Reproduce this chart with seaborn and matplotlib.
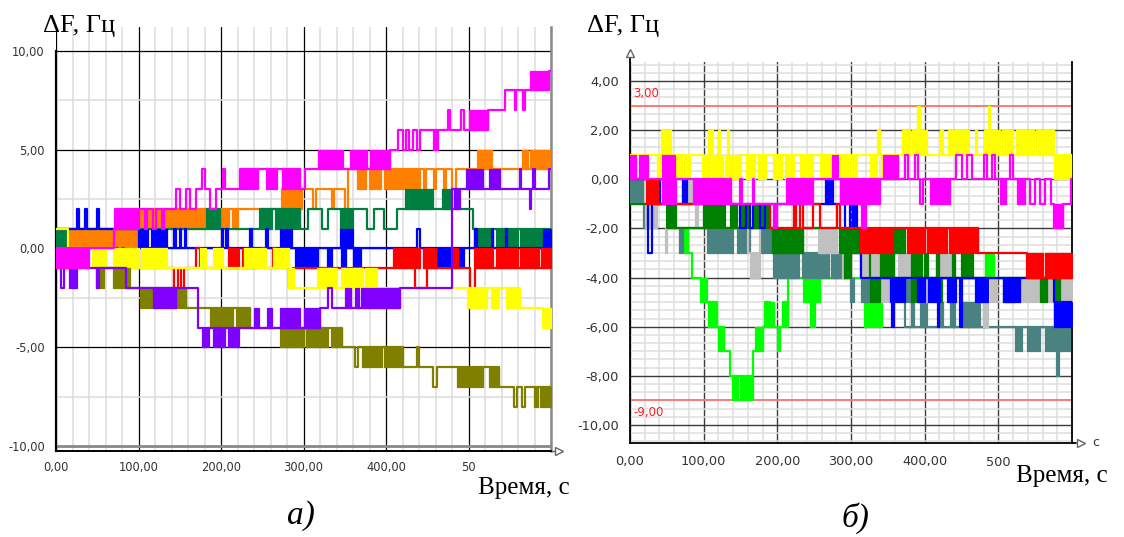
import matplotlib
matplotlib.use("Agg")
import matplotlib.pyplot as plt
import numpy as np
import seaborn as sns

sns.set_theme(style="white")
plt.rcParams["font.family"] = ["DejaVu Sans"]

# ---------------- axis ticks and labels ----------------
TIME_TICKS_A = [0, 100, 200, 300, 400, 500]
TIME_LABELS_A = ["0,00", "100,00", "200,00", "300,00", "400,00", "50"]
DF_TICKS_A = [-10, -5, 0, 5, 10]
DF_LABELS_A = ["-10,00", "-5,00", "0,00", "5,00", "10,00"]

TIME_TICKS_B = [0, 100, 200, 300, 400, 500]
TIME_LABELS_B = ["0,00", "100,00", "200,00", "300,00", "400,00", "500"]
DF_TICKS_B = [-10, -8, -6, -4, -2, 0, 2, 4]
DF_LABELS_B = ["-10,00", "-8,00", "-6,00", "-4,00", "-2,00", "0,00", "2,00", "4,00"]

LIMIT_HIGH_B = 3.0
LIMIT_LOW_B = -9.0

# ---------------- panel a: frequency deviation traces ----------------
# each trace: step path (time s, ΔF Hz) and toggling bands (t0, t1, low, high)
ORANGE_A = [(0, 1), (100, 2), (274, 3), (312, 2), (315, 3), (334, 2), (337, 3), (350, 2),
            (354, 4), (446, 3), (449, 4), (458, 3), (461, 4), (470, 3), (473, 4), (480, 3),
            (485, 4), (600, 4)]
ORANGE_A_BANDS = [(15, 100, 0, 1), (100, 183, 1, 2), (199, 210, 1, 2), (213, 220, 1, 2),
                  (274, 298, 2, 3), (365, 376, 3, 4), (379, 394, 3, 4), (398, 441, 3, 4),
                  (510, 528, 4, 5), (565, 572, 4, 5), (575, 599, 4, 5)]

GREEN_A = [(0, 1), (183, 2), (199, 1), (247, 2), (296, 1), (305, 2), (323, 1), (330, 2),
           (377, 1), (385, 2), (397, 1), (413, 2), (505, 1), (600, 1)]
GREEN_A_BANDS = [(0, 14, 0, 1), (183, 199, 1, 2), (247, 262, 1, 2), (265, 296, 1, 2),
                 (344, 360, 1, 2), (423, 457, 2, 3), (468, 480, 2, 3),
                 (507, 530, 0, 1), (533, 560, 0, 1), (563, 599, 0, 1)]

BLUE_A = [(0, 1), (26, 2), (28, 1), (35, 2), (37, 1), (50, 2), (52, 1), (100, 0),
          (143, 1), (145, 0), (150, 1), (152, 0), (156, 1), (158, 0), (201, 1), (203, 0),
          (206, 1), (208, 0), (235, 1), (237, 0), (255, 1), (257, 0), (437, 1), (441, 0),
          (508, 1), (510, 0), (528, 1), (530, 0), (545, 1), (547, 0), (600, 0)]
BLUE_A_BANDS = [(102, 112, 0, 1), (115, 134, 0, 1), (271, 286, 0, 1), (290, 318, -1, 0),
                (329, 335, -1, 0), (344, 360, 0, 1), (345, 351, -1, 0), (360, 370, -1, 0),
                (445, 477, -1, 0), (481, 495, -1, 0), (590, 600, 0, 1)]

RED_A = [(60, -1), (72, 0), (75, -1), (80, 0), (83, -1), (143, -2), (148, -1), (151, -2),
         (155, -1), (170, 0), (174, -1), (250, 0), (252, -1), (263, 0), (266, -1),
         (283, -2), (287, -1), (435, -2), (450, -1), (502, -2), (508, -1), (600, -1)]
RED_A_BANDS = [(208, 222, -1, 0), (226, 240, -1, 0), (409, 441, -1, 0), (445, 461, -1, 0),
               (481, 487, -1, 0), (507, 530, -1, 0), (533, 560, -1, 0), (563, 585, -1, 0),
               (588, 600, -1, 0)]

YELLOW_A = [(0, 1), (14, 0), (45, -1), (283, -2), (562, -3), (590, -4), (600, -4)]
YELLOW_A_BANDS = [(45, 60, -1, 0), (69, 100, -1, 0), (103, 134, -1, 0), (174, 182, -1, 0),
                  (190, 202, -1, 0), (228, 255, -1, 0), (263, 283, -1, 0), (281, 289, -2, -1),
                  (316, 340, -2, -1), (345, 372, -2, -1), (375, 389, -2, -1),
                  (498, 522, -3, -2), (527, 537, -3, -2), (546, 562, -3, -2), (590, 600, -4, -3)]

OLIVE_A = [(48, -1), (85, -2), (158, -3), (235, -4), (347, -5), (362, -6), (366, -5),
           (421, -6), (437, -5), (440, -6), (457, -7), (462, -6), (537, -7), (555, -8),
           (559, -7), (565, -8), (569, -7), (600, -7)]
OLIVE_A_BANDS = [(48, 58, -2, -1), (69, 90, -2, -1), (102, 122, -3, -2), (126, 140, -3, -2),
                 (143, 158, -3, -2), (187, 215, -4, -3), (218, 235, -4, -3),
                 (271, 300, -5, -4), (303, 330, -5, -4), (333, 347, -5, -4),
                 (371, 395, -6, -5), (398, 421, -6, -5), (486, 517, -7, -6),
                 (525, 537, -7, -6), (579, 584, -8, -7), (587, 600, -8, -7)]

PURPLE_A = [(0, -1), (6, -2), (10, -1), (85, -2), (172, -4), (320, -3), (330, -2),
            (335, -3), (417, -2), (480, 3), (562, 4), (564, 3), (574, 2), (576, 3),
            (578, 4), (580, 3), (598, 4), (600, 4)]
PURPLE_A_BANDS = [(16, 26, -2, -1), (48, 52, -2, -1), (118, 145, -3, -2), (177, 186, -5, -4),
                  (190, 205, -5, -4), (208, 222, -5, -4), (240, 246, -4, -3),
                  (256, 262, -4, -3), (271, 296, -4, -3), (300, 320, -4, -3),
                  (350, 357, -3, -2), (362, 367, -3, -2), (370, 417, -3, -2),
                  (482, 490, 2, 3), (497, 517, 3, 4), (525, 538, 3, 4)]

MAGENTA_A = [(0, 0), (70, 1), (72, 2), (108, 1), (110, 2), (118, 1), (121, 2), (128, 1),
             (131, 2), (146, 3), (150, 2), (158, 3), (163, 2), (170, 3), (177, 4), (180, 3),
             (187, 2), (194, 3), (203, 4), (205, 3), (223, 4), (296, 3), (302, 4),
             (405, 5), (415, 6), (420, 5), (424, 6), (428, 5), (433, 6), (438, 5),
             (441, 6), (475, 7), (477, 6), (491, 7), (494, 6), (524, 7), (544, 8),
             (556, 7), (558, 8), (566, 7), (569, 8), (597, 9), (600, 9)]
MAGENTA_A_BANDS = [(0, 40, -1, 0), (72, 100, 1, 2), (223, 245, 3, 4), (255, 268, 3, 4),
                   (274, 296, 3, 4), (318, 340, 4, 5), (342, 348, 4, 5), (356, 377, 4, 5),
                   (381, 405, 4, 5), (457, 463, 5, 6), (500, 524, 6, 7), (575, 597, 8, 9)]

# ---------------- panel b: frequency deviation traces ----------------
YELLOW_B = [(0, 1), (55, 1), (99, 0), (150, 1), (421, 1), (600, 1)]
YELLOW_B_BANDS = [(0, 8, 0, 1), (36, 41, 0, 1), (42, 55, 1, 2), (63, 70, 0, 1),
                  (73, 81, 0, 1), (99, 108, 0, 1), (111, 126, 0, 1), (129, 149, 0, 1),
                  (106, 113, 1, 2), (120, 122, 1, 2), (131, 134, 1, 2),
                  (158, 170, 0, 1), (174, 185, 0, 1), (194, 206, 0, 1), (210, 222, 0, 1),
                  (231, 249, 0, 1), (258, 276, 0, 1), (285, 296, 0, 1), (299, 308, 0, 1),
                  (326, 335, 0, 1), (335, 339, 1, 2), (341, 364, 0, 1),
                  (369, 380, 1, 2), (383, 403, 1, 2), (389, 393, 2, 3), (421, 425, 1, 2),
                  (432, 437, 1, 2), (439, 450, 1, 2), (452, 460, 1, 2), (469, 471, 1, 2),
                  (480, 502, 1, 2), (486, 489, 2, 3), (505, 520, 1, 2), (524, 548, 1, 2),
                  (551, 575, 1, 2), (575, 598, 0, 1)]

LIME_B = [(70, -2), (74, -3), (84, -4), (97, -5), (118, -6), (127, -7), (136, -8),
          (167, -7), (181, -6), (183, -5), (190, -6), (204, -6), (208, -5), (215, -4),
          (258, -4), (600, -4)]
LIME_B_BANDS = [(74, 79, -3, -2), (97, 104, -5, -4), (106, 118, -6, -5), (120, 127, -7, -6),
                (138, 146, -9, -8), (149, 160, -9, -8), (162, 167, -9, -8),
                (170, 181, -7, -6), (183, 195, -6, -5), (199, 204, -7, -6),
                (208, 215, -6, -5), (235, 258, -5, -4), (244, 251, -6, -5),
                (316, 342, -5, -4), (318, 342, -6, -5), (416, 421, -4, -3),
                (482, 494, -4, -3), (575, 584, -5, -4)]

TEAL_B = [(0, 0), (18, -1), (60, -2), (194, -3), (313, -4), (373, -6), (520, -6),
          (580, -8), (582, -6), (600, -6)]
TEAL_B_BANDS = [(0, 18, -1, 0), (18, 22, -2, -1), (66, 72, -3, -2), (104, 140, -3, -2),
                (145, 163, -3, -2), (176, 204, -3, -2), (194, 230, -4, -3),
                (233, 270, -4, -3), (273, 294, -4, -3), (299, 304, -5, -4),
                (313, 326, -5, -4), (373, 382, -5, -4), (382, 386, -6, -5),
                (394, 403, -6, -5), (421, 425, -6, -5), (435, 441, -6, -5),
                (452, 475, -6, -5), (479, 483, -6, -5), (523, 532, -7, -6),
                (539, 557, -7, -6), (563, 575, -7, -6), (577, 597, -7, -6)]

GRAY_B = [(0, -1), (100, -2), (160, -3), (177, -2), (256, -3), (337, -4), (600, -4)]
GRAY_B_BANDS = [(20, 36, -2, -1), (47, 50, -3, -2), (70, 84, -1, 0), (88, 92, -2, -1),
                (163, 177, -4, -3), (256, 281, -3, -2), (288, 300, -4, -3),
                (312, 339, -4, -3), (337, 351, -5, -4), (364, 382, -4, -3),
                (389, 416, -5, -4), (421, 441, -4, -3), (450, 457, -4, -3),
                (479, 486, -6, -5), (489, 498, -5, -4), (527, 557, -5, -4),
                (566, 575, -5, -4), (584, 600, -5, -4)]

DGREEN_B = [(0, -1), (50, -2), (194, -3), (235, -2), (285, -3), (326, -4), (600, -4)]
DGREEN_B_BANDS = [(50, 63, -2, -1), (99, 129, -2, -1), (136, 145, -2, -1),
                  (150, 160, -2, -1), (167, 190, -2, -1), (194, 235, -3, -2),
                  (285, 294, -3, -2), (296, 312, -3, -2), (291, 300, -4, -3),
                  (326, 339, -5, -4), (339, 359, -4, -3), (357, 373, -3, -2),
                  (382, 396, -4, -3), (399, 404, -4, -3), (382, 392, -5, -4),
                  (416, 420, -4, -3), (420, 424, -5, -4), (437, 441, -4, -3),
                  (449, 466, -4, -3), (472, 479, -5, -4), (507, 523, -5, -4),
                  (557, 566, -5, -4), (575, 584, -5, -4), (575, 582, -6, -5)]

BLUE_B = [(0, 0), (25, -3), (30, -1), (149, -2), (158, -1), (163, -2), (167, -1),
          (176, -2), (183, -1), (292, -2), (299, -1), (303, -2), (313, -4), (356, -6),
          (358, -4), (418, -6), (420, -4), (448, -6), (450, -4), (575, -5), (600, -5)]
BLUE_B_BANDS = [(36, 41, -1, 0), (52, 56, -1, 0), (70, 77, -1, 0), (226, 235, -1, 0),
                (265, 276, -1, 0), (285, 290, -1, 0), (303, 308, -2, -1),
                (353, 373, -5, -4), (389, 400, -5, -4), (405, 421, -5, -4),
                (430, 443, -5, -4), (468, 486, -5, -4), (507, 529, -5, -4),
                (575, 600, -6, -5)]

RED_B = [(0, 0), (23, -1), (190, -2), (222, -1), (226, -2), (231, -1), (235, -2),
         (249, -1), (258, -2), (281, -1), (285, -2), (473, -3), (539, -4), (600, -4)]
RED_B_BANDS = [(23, 38, -1, 0), (312, 339, -3, -2), (341, 357, -3, -2), (376, 400, -3, -2),
               (403, 430, -3, -2), (433, 473, -3, -2), (539, 560, -4, -3),
               (563, 600, -4, -3)]

MAGENTA_B = [(0, 0), (131, -1), (135, 0), (137, -1), (149, 0), (152, -1), (167, 0),
             (169, -1), (213, 0), (373, 1), (378, 0), (387, 1), (391, 0), (394, -1),
             (398, 0), (443, 1), (450, 0), (457, 1), (464, 0), (480, 1), (484, 0),
             (491, 1), (496, 0), (516, 1), (520, 0), (543, -1), (550, 0), (557, -1),
             (563, 0), (571, -1), (575, -2), (588, -1), (598, 0), (600, 0)]
MAGENTA_B_BANDS = [(0, 8, 0, 1), (12, 25, 0, 1), (43, 61, 0, 1), (43, 63, -1, 0),
                   (86, 120, -1, 0), (120, 131, -1, 0), (194, 199, -2, -1),
                   (213, 249, -1, 0), (274, 283, 0, 1), (285, 312, -1, 0),
                   (308, 339, -1, 0), (314, 321, -2, -1), (344, 364, 0, 1),
                   (407, 434, -1, 0), (502, 511, -1, 0), (525, 536, -1, 0),
                   (575, 588, -2, -1)]

PANEL_A_TRACES = [
    (ORANGE_A, ORANGE_A_BANDS, "#ff8000"),
    (GREEN_A, GREEN_A_BANDS, "#008040"),
    (BLUE_A, BLUE_A_BANDS, "#0000ff"),
    (RED_A, RED_A_BANDS, "#ff0000"),
    (YELLOW_A, YELLOW_A_BANDS, "#ffff00"),
    (OLIVE_A, OLIVE_A_BANDS, "#808000"),
    (PURPLE_A, PURPLE_A_BANDS, "#8000ff"),
    (MAGENTA_A, MAGENTA_A_BANDS, "#ff00ff"),
]
PANEL_B_TRACES = [
    (YELLOW_B, YELLOW_B_BANDS, "#ffff00"),
    (LIME_B, LIME_B_BANDS, "#00ff00"),
    (TEAL_B, TEAL_B_BANDS, "#4a8282"),
    (GRAY_B, GRAY_B_BANDS, "#c0c0c0"),
    (DGREEN_B, DGREEN_B_BANDS, "#008000"),
    (BLUE_B, BLUE_B_BANDS, "#0000ff"),
    (RED_B, RED_B_BANDS, "#ff0000"),
    (MAGENTA_B, MAGENTA_B_BANDS, "#ff00ff"),
]

W, H = 1124, 537
fig = plt.figure(figsize=(W / 100, H / 100), dpi=100)


def px_axes(left, top, right, bottom):
    return fig.add_axes([left / W, 1 - bottom / H, (right - left) / W, (bottom - top) / H])


def draw_trace(ax, path, bands, color, z):
    for t0, t1, lo, hi in bands:
        ax.fill_between([t0, t1], [lo, lo], [hi, hi], color=color, edgecolor=color,
                        lw=0.9, zorder=z)
    sns.lineplot(x=[p[0] for p in path], y=[p[1] for p in path], ax=ax, color=color,
                 lw=1.6, drawstyle="steps-post", estimator=None, sort=False,
                 legend=False, zorder=z + 0.5)


# ---------------- panel a ----------------
ax_a = px_axes(56, 27, 551, 451)
ax_a.set_xlim(0, 600)
ax_a.set_ylim(-10.253, 11.215)
for i, (path, bands, color) in enumerate(PANEL_A_TRACES):
    draw_trace(ax_a, path, bands, color, 3 + i)

ax_a.set_xticks(TIME_TICKS_A, TIME_LABELS_A)
ax_a.set_yticks(DF_TICKS_A, DF_LABELS_A)
ax_a.set_xticks(np.arange(0, 601, 20), minor=True)
ax_a.set_yticks([-7.5, -2.5, 2.5, 7.5], minor=True)
ax_a.set_axisbelow(True)
ax_a.grid(which="minor", color="#dcdcdc", lw=1.1)
ax_a.grid(which="major", color="#000000", lw=0.9)
ax_a.axhline(-10, color="#8a8a8a", lw=2.0, zorder=1.5)
ax_a.tick_params(axis="both", which="major", direction="out", length=4, width=1,
                 color="#000000", labelsize=8.3, labelcolor="#333333", pad=3)
ax_a.tick_params(axis="y", which="major", pad=4)
ax_a.tick_params(which="minor", length=0)
ax_a.spines["top"].set_visible(False)
ax_a.spines["left"].set_color("#000000")
ax_a.spines["left"].set_linewidth(1.6)
ax_a.spines["left"].set_bounds(-10.253, 10)
ax_a.spines["bottom"].set_color("#000000")
ax_a.spines["bottom"].set_linewidth(1.4)
ax_a.spines["right"].set_color("#8a8a8a")
ax_a.spines["right"].set_linewidth(1.8)
ax_a.plot([1.0, 1.008], [0, 0], transform=ax_a.transAxes, color="#555555", lw=1,
          clip_on=False)
ax_a.plot([1.016], [0], transform=ax_a.transAxes, marker=">", ms=6, mfc="white",
          mec="#666666", mew=1, clip_on=False)

# ---------------- panel b ----------------
ax_b = px_axes(630, 62, 1072, 443)
ax_b.set_xlim(0, 600)
ax_b.set_ylim(-10.733, 4.773)
for i, (path, bands, color) in enumerate(PANEL_B_TRACES):
    draw_trace(ax_b, path, bands, color, 3 + i)

ax_b.axhline(LIMIT_HIGH_B, color="#ff7070", lw=1.3, zorder=2)
ax_b.axhline(LIMIT_LOW_B, color="#ff7070", lw=1.3, zorder=2)
ax_b.text(4, LIMIT_HIGH_B + 0.22, "3,00", color="#ff2020", fontsize=8.5, va="bottom",
          ha="left")
ax_b.text(4, LIMIT_LOW_B - 0.22, "-9,00", color="#ff2020", fontsize=8.5, va="top",
          ha="left")

ax_b.set_xticks(TIME_TICKS_B, TIME_LABELS_B)
ax_b.set_yticks(DF_TICKS_B, DF_LABELS_B)
ax_b.set_xticks(np.arange(0, 601, 20), minor=True)
ax_b.set_yticks(np.arange(-32, 15) / 3, minor=True)
ax_b.set_axisbelow(True)
ax_b.grid(which="minor", color="#dedede", lw=1.1)
ax_b.grid(which="major", color="#3c3c3c", lw=1.0)
ax_b.tick_params(axis="both", which="major", direction="out", length=4, width=1,
                 color="#000000", labelsize=9.3, labelcolor="#333333", pad=5)
ax_b.tick_params(axis="y", which="major", pad=4)
ax_b.tick_params(which="minor", length=0)
ax_b.spines["top"].set_visible(False)
for side in ("left", "bottom", "right"):
    ax_b.spines[side].set_color("#000000")
    ax_b.spines[side].set_linewidth(1.3)
ax_b.plot([0, 0], [1.0, 1.02], transform=ax_b.transAxes, color="#000000", lw=1.3,
          clip_on=False)
ax_b.plot([0], [1.024], transform=ax_b.transAxes, marker="^", ms=6, mfc="white",
          mec="#666666", mew=1, clip_on=False)
ax_b.plot([1.0, 1.01], [0, 0], transform=ax_b.transAxes, color="#000000", lw=1.3,
          clip_on=False)
ax_b.plot([1.02], [0], transform=ax_b.transAxes, marker=">", ms=6, mfc="white",
          mec="#666666", mew=1, clip_on=False)
ax_b.text(1.046, 0.0, "c", transform=ax_b.transAxes, fontsize=9, color="#333333",
          va="center", ha="left")

# ---------------- captions ----------------
serif = "Liberation Serif"
fig.text(43 / W, 1 - 32 / H, "ΔF, Гц", family=serif, fontsize=19, va="baseline",
         ha="left", color="#000000")
fig.text(587 / W, 1 - 32 / H, "ΔF, Гц", family=serif, fontsize=19, va="baseline",
         ha="left", color="#000000")
fig.text(478 / W, 1 - 494 / H, "Время, с", family=serif, fontsize=18, va="baseline",
         ha="left", color="#000000")
fig.text(1016 / W, 1 - 482 / H, "Время, с", family=serif, fontsize=18, va="baseline",
         ha="left", color="#000000")
fig.text(287 / W, 1 - 524 / H, "а)", family=serif, fontsize=24, style="italic",
         va="baseline", ha="left", color="#000000")
fig.text(842 / W, 1 - 527 / H, "б)", family=serif, fontsize=24, style="italic",
         va="baseline", ha="left", color="#000000")

fig.savefig("out.png", dpi=100, facecolor="white")
